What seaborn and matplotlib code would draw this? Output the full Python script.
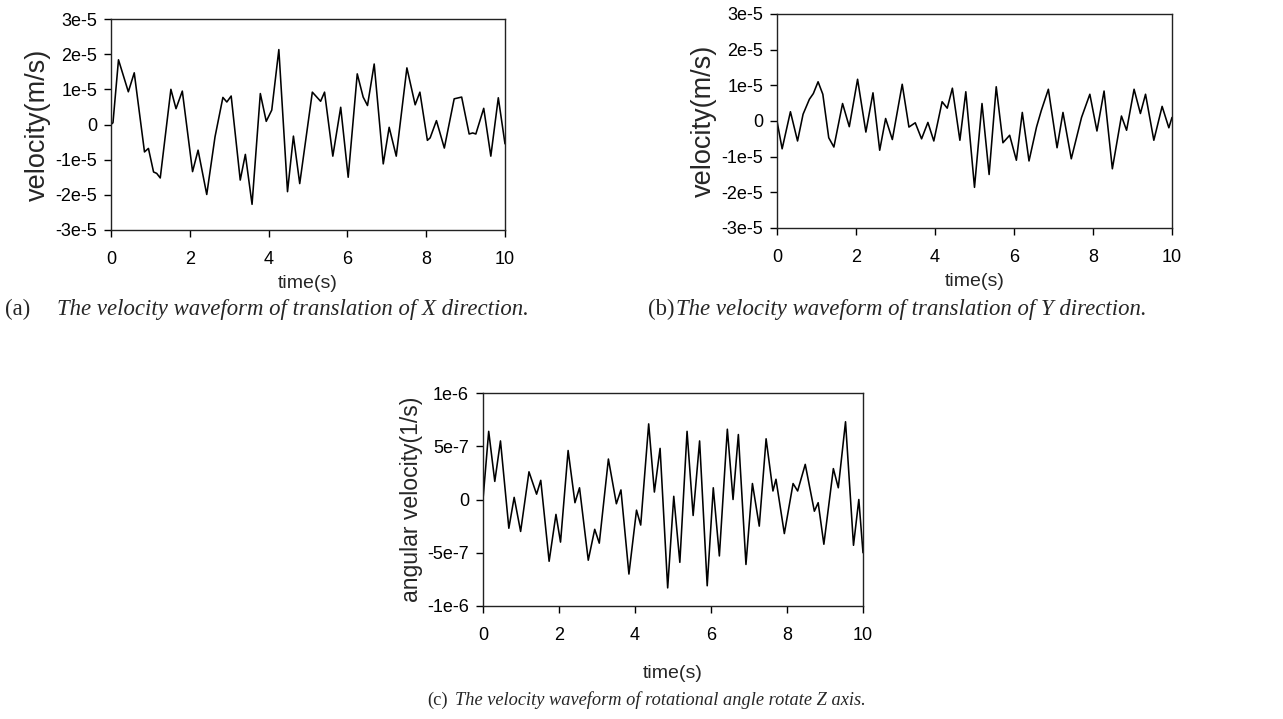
import numpy as np
import pandas as pd
import matplotlib
matplotlib.use("Agg")
import matplotlib.pyplot as plt
import seaborn as sns

# panel (a): translation velocity X, values in units of 1e-5 m/s
t_a = [0, 0.05, 0.19, 0.44, 0.59, 0.85, 0.95, 1.08, 1.16, 1.25, 1.52, 1.65, 1.81, 2.07, 2.21,
       2.43, 2.64, 2.84, 2.94, 3.05, 3.28, 3.41, 3.58, 3.79, 3.94, 4.08, 4.26, 4.48, 4.63, 4.79,
       5.11, 5.32, 5.42, 5.63, 5.83, 6.02, 6.25, 6.40, 6.51, 6.68, 6.91, 7.06, 7.24, 7.51, 7.72,
       7.84, 8.03, 8.10, 8.26, 8.46, 8.71, 8.90, 9.09, 9.18, 9.26, 9.46, 9.64, 9.83, 10.0]
v_a = [0, 0.05, 1.84, 0.93, 1.47, -0.78, -0.68, -1.35, -1.39, -1.52, 1.0, 0.45, 0.95, -1.34, -0.73,
       -1.99, -0.35, 0.77, 0.64, 0.81, -1.58, -0.85, -2.27, 0.88, 0.09, 0.41, 2.13, -1.91, -0.33, -1.68,
       0.92, 0.66, 0.92, -0.90, 0.49, -1.50, 1.44, 0.78, 0.54, 1.72, -1.12, -0.08, -0.90, 1.61, 0.56,
       0.92, -0.45, -0.38, 0.11, -0.67, 0.73, 0.78, -0.27, -0.24, -0.27, 0.46, -0.90, 0.76, -0.55]

# panel (b): translation velocity Y, units of 1e-5 m/s
t_b = [0, 0.13, 0.34, 0.52, 0.66, 0.82, 0.92, 1.04, 1.16, 1.31, 1.44, 1.66, 1.83, 2.04, 2.25,
       2.43, 2.60, 2.75, 2.92, 3.17, 3.34, 3.50, 3.66, 3.82, 3.97, 4.18, 4.31, 4.44, 4.63, 4.78,
       5.00, 5.19, 5.37, 5.55, 5.72, 5.89, 6.06, 6.21, 6.38, 6.57, 6.69, 6.87, 7.09, 7.24, 7.45,
       7.58, 7.71, 7.92, 8.10, 8.28, 8.49, 8.72, 8.85, 9.04, 9.20, 9.33, 9.54, 9.75, 9.92, 10.0]
v_b = [0, -0.78, 0.26, -0.56, 0.19, 0.61, 0.77, 1.10, 0.75, -0.47, -0.73, 0.49, -0.16, 1.17, -0.31,
       0.79, -0.82, 0.07, -0.52, 1.03, -0.17, -0.05, -0.50, -0.04, -0.56, 0.54, 0.36, 0.92, -0.54, 0.82,
       -1.86, 0.49, -1.50, 0.96, -0.61, -0.40, -1.10, 0.24, -1.12, -0.17, 0.29, 0.89, -0.75, 0.24, -1.06,
       -0.48, 0.10, 0.75, -0.28, 0.84, -1.34, 0.14, -0.26, 0.89, 0.21, 0.75, -0.54, 0.41, -0.19, 0.10]

# panel (c): angular velocity about Z, units of 1e-7 1/s
t_c = [0, 0.15, 0.31, 0.46, 0.68, 0.82, 0.99, 1.21, 1.41, 1.52, 1.74, 1.92, 2.04, 2.24, 2.42,
       2.54, 2.77, 2.94, 3.06, 3.30, 3.51, 3.63, 3.84, 4.04, 4.15, 4.36, 4.51, 4.66, 4.86, 5.02,
       5.18, 5.37, 5.53, 5.70, 5.90, 6.06, 6.22, 6.43, 6.58, 6.72, 6.92, 7.09, 7.27, 7.45, 7.63,
       7.71, 7.93, 8.16, 8.28, 8.48, 8.72, 8.82, 8.97, 9.22, 9.35, 9.54, 9.75, 9.89, 10.0]
v_c = [0, 6.4, 1.7, 5.5, -2.7, 0.2, -3.0, 2.6, 0.5, 1.8, -5.8, -1.4, -4.0, 4.6, -0.3,
       1.1, -5.7, -2.8, -4.1, 3.8, -0.4, 0.9, -7.0, -1.0, -2.4, 7.1, 0.7, 4.8, -8.3, 0.3,
       -5.9, 6.4, -1.5, 5.5, -8.1, 1.1, -5.3, 6.6, 0.0, 6.1, -6.1, 1.5, -2.5, 5.7, 0.8,
       1.9, -3.2, 1.5, 0.8, 3.3, -1.1, -0.3, -4.2, 2.9, 1.1, 7.3, -4.3, 0.0, -5.0]

x_ticks = [0, 2, 4, 6, 8, 10]
y_ticks_ab = [-3e-5, -2e-5, -1e-5, 0, 1e-5, 2e-5, 3e-5]
y_labels_ab = ["-3e-5", "-2e-5", "-1e-5", "0", "1e-5", "2e-5", "3e-5"]
y_ticks_c = [-1e-6, -5e-7, 0, 5e-7, 1e-6]
y_labels_c = ["-1e-6", "-5e-7", "0", "5e-7", "1e-6"]

sns.set_style("ticks")
plt.rcParams["font.family"] = ["Liberation Sans", "DejaVu Sans"]

W, H = 1283, 719
fig = plt.figure(figsize=(W / 100, H / 100), dpi=100)

def box(l, t, r, b):
    return [l / W, 1 - b / H, (r - l) / W, (b - t) / H]

def panel(rect, t, v, scale, yt, ytl, ylabel, ysize, xpad, xlabpad):
    ax = fig.add_axes(rect)
    df = pd.DataFrame({"t": t, "v": np.array(v) * scale})
    sns.lineplot(data=df, x="t", y="v", ax=ax, color="black", linewidth=1.15)
    ax.lines[0].set_solid_joinstyle("round")
    ax.set_xlim(0, 10)
    ax.set_ylim(yt[0], yt[-1])
    ax.set_xticks(x_ticks)
    ax.set_xticklabels([str(x) for x in x_ticks])
    ax.set_yticks(yt)
    ax.set_yticklabels(ytl)
    ax.tick_params(direction="out", length=5, width=1, labelsize=13, colors="black")
    ax.tick_params(axis="y", pad=5)
    ax.tick_params(axis="x", pad=xpad)
    for s in ax.spines.values():
        s.set_visible(True)
        s.set_color("#222222")
        s.set_linewidth(1.0)
    ax.set_xlabel("time(s)", fontsize=14, labelpad=xlabpad)
    ax.set_ylabel(ylabel, fontsize=ysize, labelpad=3)
    return ax

panel(box(111, 19, 505, 230), t_a, v_a, 1e-5, y_ticks_ab, y_labels_ab, "velocity(m/s)", 19.5, 10, 5)
panel(box(777, 14, 1172, 228), t_b, v_b, 1e-5, y_ticks_ab, y_labels_ab, "velocity(m/s)", 19.5, 10, 5)
panel(box(483, 393, 863, 606), t_c, v_c, 1e-7, y_ticks_c, y_labels_c, "angular velocity(1/s)", 16.6, 10, 15)

cap_font = ["Liberation Serif", "DejaVu Serif"]
def caption(x0, x1, y, tag, text, size):
    fig.text(x0 / W, 1 - y / H, tag, family=cap_font, fontsize=size, va="center")
    fig.text(x1 / W, 1 - y / H, text, family=cap_font, fontsize=size, style="italic", va="center")

caption(5, 57, 309, "(a)", "The velocity waveform of translation of X direction.", 16.4)
caption(648, 676, 309, "(b)", "The velocity waveform of translation of Y direction.", 16.4)
caption(427, 455, 700, "(c)", "The velocity waveform of rotational angle rotate Z axis.", 13.2)

fig.savefig("out.png", dpi=100)
